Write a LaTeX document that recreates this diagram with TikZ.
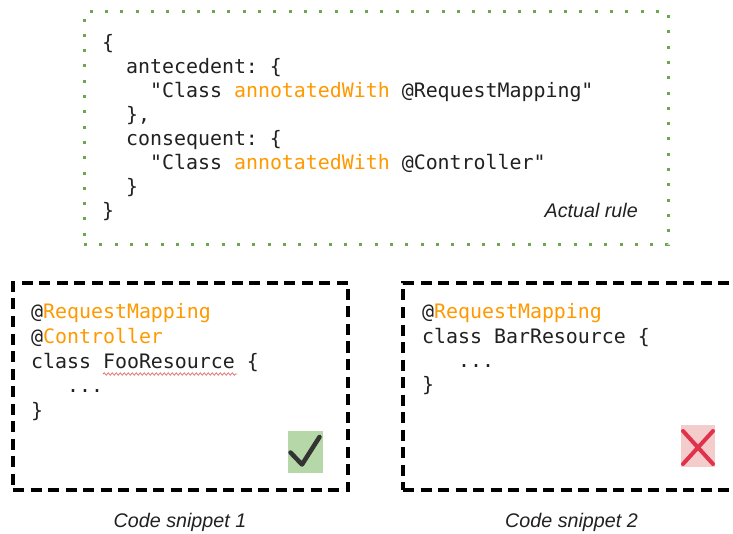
\documentclass[tikz,border=0pt]{standalone}
\usepackage{fontspec}
\setmainfont{Liberation Sans}
\setmonofont{DejaVu Sans Mono}
\usetikzlibrary{decorations.pathmorphing}
\definecolor{codeorange}{RGB}{255,153,0}
\definecolor{dotgreen}{RGB}{106,168,79}
\definecolor{ink}{RGB}{33,33,33}
\definecolor{okfill}{RGB}{182,215,168}
\definecolor{nofill}{RGB}{244,204,204}
\definecolor{nored}{RGB}{224,51,75}
\definecolor{checkgray}{RGB}{51,51,51}
\definecolor{squiggle}{RGB}{230,120,120}
\newcommand{\hlt}[1]{\textcolor{codeorange}{#1}}
\begin{document}
\begin{tikzpicture}[x=1pt,y=-1pt,
  code/.style={anchor=base west,inner sep=0pt,text=ink,
    font=\ttfamily\fontsize{19.9}{24}\selectfont},
  caption/.style={inner sep=0pt,text=ink,
    font=\itshape\fontsize{19.7}{24}\selectfont},
  rulebox/.style={draw=dotgreen,line width=3pt,dash pattern=on 3pt off 12.3pt,
    inner sep=0pt,outer sep=0pt},
  snipbox/.style={draw=black,line width=3.3pt,dash pattern=on 11pt off 6.5pt,
    inner sep=0pt,outer sep=0pt},
  markbox/.style={inner sep=0pt,outer sep=0pt,draw=none}
]
\fill[white] (0,0) rectangle (733,534);
\clip (0,0) rectangle (733,534);

% rule box
\node[rulebox,minimum width=584pt,minimum height=233pt] (rule) at (376,128.5) {};
\node[code] (r0) at (102,49.5) {\{};
\node[code] (r1) at (126,73.5) {antecedent: \{};
\node[code] (r2) at (150,97.5) {"Class \hlt{annotatedWith} @RequestMapping"};
\node[code] (r3) at (126,121.5) {\},};
\node[code] (r4) at (126,145.5) {consequent: \{};
\node[code] (r5) at (150,169.5) {"Class \hlt{annotatedWith} @Controller"};
\node[code] (r6) at (126,193.5) {\}};
\node[code] (r7) at (102,217.5) {\}};
\node[caption,anchor=base east] (rulelabel) at (638,217.5) {Actual rule};

% snippet 1
\node[snipbox,minimum width=335pt,minimum height=207pt] (snip1) at (180.5,386.5) {};
\node[code] (a0) at (31,319) {@\hlt{RequestMapping}};
\node[code] (a1) at (31,343.5) {@\hlt{Controller}};
\node[code] (a2) at (31,368) {class FooResource \{};
\node[code] (a3) at (67,392.5) {...};
\node[code] (a4) at (31,417) {\}};
\draw[squiggle,line width=0.8pt,decorate,
  decoration={snake,segment length=4pt,amplitude=1.2pt}] (103,374) -- (237,374);
\node[markbox,fill=okfill,minimum width=35pt,minimum height=42pt] (ok) at (305.5,452) {};
\draw[checkgray,line width=4.5pt,line cap=round,line join=round]
  (290.5,452.5) -- (302,464.5) -- (319.5,437);
\node[caption,anchor=base] (cap1) at (180,527.5) {Code snippet 1};

% snippet 2
\node[snipbox,minimum width=357pt,minimum height=207pt] (snip2) at (581.5,386.5) {};
\node[code] (b0) at (422,319) {@\hlt{RequestMapping}};
\node[code] (b1) at (422,343) {class BarResource \{};
\node[code] (b2) at (458,367) {...};
\node[code] (b3) at (422,391) {\}};
\node[markbox,fill=nofill,minimum width=34pt,minimum height=42pt] (no) at (698,446) {};
\draw[nored,line width=4pt,line cap=round]
  (683,431) -- (713,464) (713,431) -- (683,464);
\node[caption,anchor=base] (cap2) at (571.5,527.5) {Code snippet 2};
\end{tikzpicture}
\end{document}
